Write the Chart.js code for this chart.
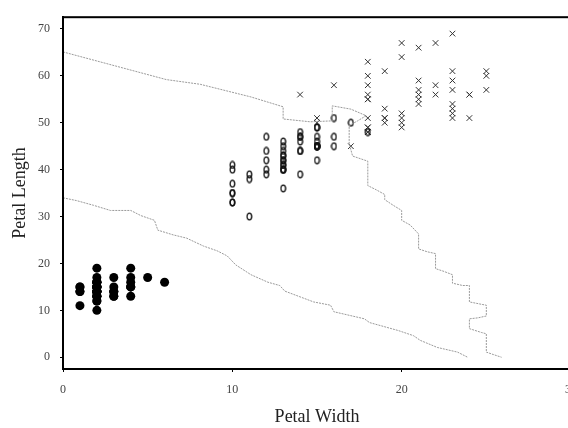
<!DOCTYPE html>
<html>
<head>
<meta charset="utf-8">
<script src="https://cdn.jsdelivr.net/npm/chart.js@4/dist/chart.umd.min.js"></script>
<style>
  html, body { margin: 0; padding: 0; background: #fff; overflow: hidden; }
  #wrap { width: 568px; height: 428px; overflow: hidden; }
</style>
</head>
<body>
<div id="wrap"><canvas id="irisChart" width="600" height="428"></canvas></div>
<script>
// petal width / length in mm, one pair per flower
const setosaWidth = [2,2,2,2,2,4,3,2,2,1,2,2,1,1,2,4,4,3,3,3,2,4,2,5,2,2,4,2,2,2,2,4,1,2,2,2,2,1,2,2,3,3,2,6,4,3,2,2,2,2];
const setosaLength = [14,14,13,15,14,17,14,15,14,15,15,16,14,11,12,15,13,14,17,15,17,15,10,17,19,16,16,15,14,16,16,15,15,14,15,12,13,14,13,15,13,13,13,16,19,14,16,14,15,14];
const versicolorWidth = [14,15,15,13,15,13,16,10,13,14,10,15,10,14,13,14,15,10,15,11,18,13,15,12,13,14,14,17,15,10,11,10,12,16,15,16,15,13,13,13,12,14,12,10,13,12,13,13,11,13];
const versicolorLength = [47,45,49,40,46,45,47,33,46,39,35,42,40,47,36,44,45,41,45,39,48,40,49,47,43,44,48,50,45,35,38,37,39,51,45,45,47,44,41,40,44,46,40,33,42,42,42,43,30,41];
const virginicaWidth = [25,19,21,18,22,21,17,18,18,25,20,19,21,20,24,23,18,22,23,15,23,20,20,18,21,18,18,18,21,16,19,20,22,15,14,23,24,18,18,21,24,23,19,23,25,23,19,20,23,18];
const virginicaLength = [60,51,59,56,58,66,45,63,58,61,51,53,55,50,51,53,55,67,69,50,57,49,67,49,57,60,48,49,56,58,61,64,56,51,56,61,56,55,48,54,56,51,51,59,57,52,50,52,54,51];

// boundary curves
const upperX = [0,6.1,8.1,11.1,13.0,13.0,14.6,15.9,15.9,17.0,17.9,17.4,16.9,16.9,17.1,18.0,18.0,18.5,19.0,19.0,19.5,20.0,20.0,20.5,21.0,21.0,21.5,22.0,22.0,22.5,23.0,23.0,23.6,24.0,24.0,24.7,25.0,25.0,24.5,24.0,24.0,24.7,25.0,25.0,25.4,25.9];
const upperY = [65.1,59.2,58.2,55.5,53.4,50.8,50.2,50.4,53.6,52.9,51.5,50.4,49.4,45.6,42.9,41.8,36.6,35.7,34.7,33.6,32.4,31.3,29.2,28.2,26.3,23.1,22.5,22.1,18.9,18.3,17.6,15.8,15.3,15.3,11.8,11.3,11.1,8.8,8.4,8.2,6.1,5.3,5.0,1.1,0.6,0];
const lowerX = [0,0.8,1.8,2.8,4.0,4.6,5.4,5.6,6.5,7.3,8.3,9.1,9.7,10.2,11.1,12.1,12.8,13.1,14.8,15.8,16.0,17.8,18.1,19.8,20.7,21.1,22.1,23.3,23.9];
const lowerY = [34.0,33.4,32.4,31.3,31.3,30.2,29.2,27.1,26.1,25.4,23.7,22.7,21.6,19.7,17.6,16.0,15.3,14.1,11.8,11.1,9.7,8.2,7.4,5.7,4.6,3.6,2.1,1.1,0];

const xTicks = [0, 10, 20, 30];
const yTicks = [0, 10, 20, 30, 40, 50, 60, 70];

function pairs(xs, ys) {
  return xs.map((x, i) => ({ x: x, y: ys[i] }));
}

// small open "o" marker
const oMark = document.createElement('canvas');
oMark.width = 7; oMark.height = 9;
const oc = oMark.getContext('2d');
oc.strokeStyle = '#111';
oc.lineWidth = 1.3;
oc.beginPath();
oc.ellipse(3.5, 4.5, 2.3, 3.3, 0, 0, Math.PI * 2);
oc.stroke();

const frame = {
  id: 'frame',
  afterDraw(chart) {
    const a = chart.chartArea;
    const c = chart.ctx;
    c.save();
    c.strokeStyle = '#000';
    c.lineWidth = 2;
    c.strokeRect(a.left, a.top, a.right - a.left, a.bottom - a.top);
    c.restore();
  }
};

const lineStyle = {
  type: 'line',
  borderColor: '#9a9a9a',
  borderWidth: 1,
  borderDash: [2, 1],
  pointRadius: 0,
  fill: false,
  tension: 0
};

new Chart(document.getElementById('irisChart'), {
  type: 'scatter',
  data: {
    datasets: [
      Object.assign({ label: 'upper', data: pairs(upperX, upperY) }, lineStyle),
      Object.assign({ label: 'lower', data: pairs(lowerX, lowerY) }, lineStyle),
      {
        label: 'Setosa',
        data: pairs(setosaWidth, setosaLength),
        pointStyle: 'circle',
        pointRadius: 4.5,
        backgroundColor: '#000',
        borderColor: '#000',
        borderWidth: 0
      },
      {
        label: 'Versicolor',
        data: pairs(versicolorWidth, versicolorLength),
        pointStyle: oMark
      },
      {
        label: 'Virginica',
        data: pairs(virginicaWidth, virginicaLength),
        pointStyle: 'crossRot',
        pointRadius: 4,
        borderColor: '#333',
        borderWidth: 1
      }
    ]
  },
  options: {
    responsive: false,
    animation: false,
    devicePixelRatio: 1,
    layout: { padding: { top: 11, right: 29, left: 0, bottom: 0 } },
    plugins: { legend: { display: false }, tooltip: { enabled: false } },
    scales: {
      x: {
        type: 'linear',
        min: 0,
        max: 30,
        afterBuildTicks: (axis) => { axis.ticks = xTicks.map(v => ({ value: v })); },
        afterFit: (axis) => { axis.height = 59; },
        grid: { display: true, drawOnChartArea: false, drawTicks: true, tickLength: 3, color: '#000' },
        border: { display: true, color: '#000', width: 2 },
        ticks: { padding: 11, color: '#444', font: { family: 'Liberation Serif', size: 12 } },
        title: {
          display: true,
          text: 'Petal Width',
          color: '#222',
          padding: { top: 0, bottom: 0 },
          font: { family: 'Liberation Serif', size: 18 }
        }
      },
      y: {
        type: 'linear',
        min: -2.5,
        max: 72.5,
        afterBuildTicks: (axis) => { axis.ticks = yTicks.map(v => ({ value: v })); },
        afterFit: (axis) => { axis.width = 63; },
        grid: { display: true, drawOnChartArea: false, drawTicks: true, tickLength: 3, color: '#000' },
        border: { display: true, color: '#000', width: 2 },
        ticks: { padding: 10, color: '#444', font: { family: 'Liberation Serif', size: 12 } },
        title: {
          display: true,
          text: 'Petal Length',
          color: '#222',
          padding: { top: 9, bottom: 0 },
          font: { family: 'Liberation Serif', size: 18 }
        }
      }
    }
  },
  plugins: [frame]
});
</script>
</body>
</html>
